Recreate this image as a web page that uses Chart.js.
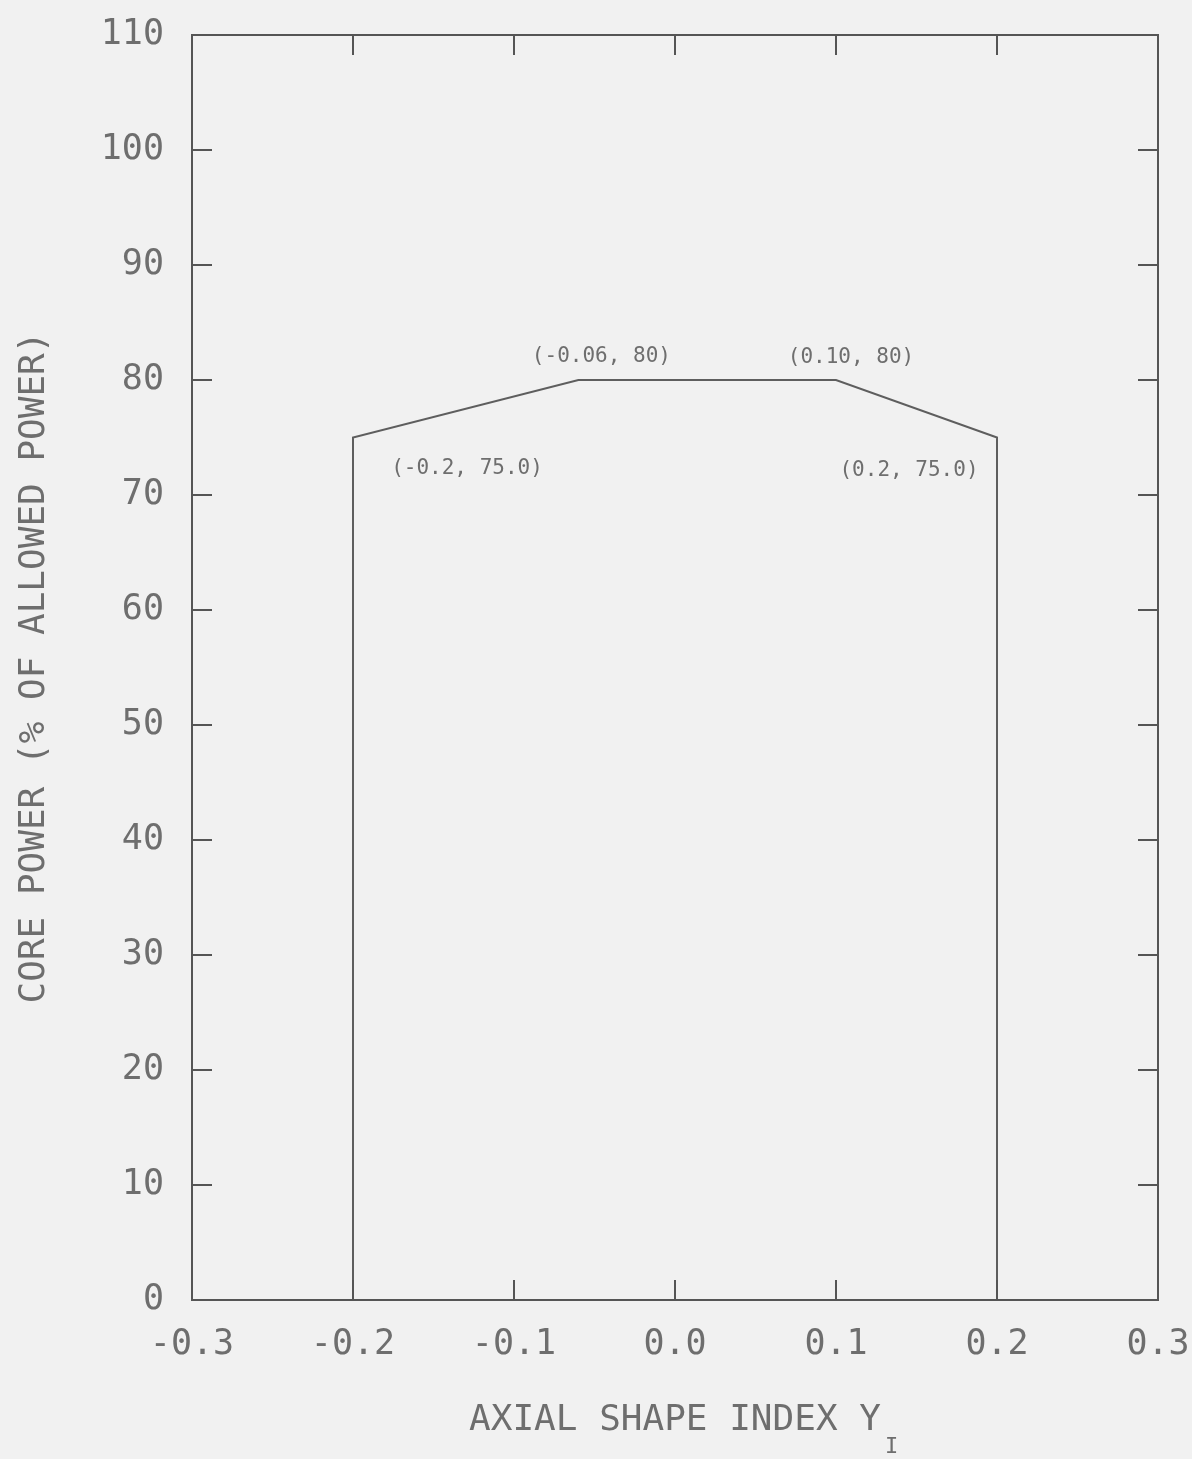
<!DOCTYPE html>
<html>
<head>
<meta charset="utf-8">
<script src="https://cdn.jsdelivr.net/npm/chart.js@4/dist/chart.umd.min.js"></script>
<style>
  html, body { margin: 0; padding: 0; background: #f1f1f1; }
  canvas { display: block; }
</style>
</head>
<body>
<canvas id="c" width="1192" height="1459"></canvas>
<script>
// ---- data ----
const asiValues   = [-0.2, -0.2, -0.06, 0.10, 0.2, 0.2];
const powerValues = [0, 75.0, 80, 80, 75.0, 0];
const xTickValues = [-0.3, -0.2, -0.1, 0.0, 0.1, 0.2, 0.3];
const yTickValues = [0, 10, 20, 30, 40, 50, 60, 70, 80, 90, 100, 110];
const pointLabels = ['(-0.06, 80)', '(0.10, 80)', '(-0.2, 75.0)', '(0.2, 75.0)'];
const labelAnchorX = [-0.06, 0.10, -0.2, 0.2];
const labelAnchorY = [80, 80, 75.0, 75.0];
const xTitle = 'AXIAL SHAPE INDEX Y';
const xTitleSub = 'I';
const yTitle = 'CORE POWER (% OF ALLOWED POWER)';

// ---- styles / placement (not data) ----
const labelOffsets = [[23, -23], [15, -22], [114, 31], [-88, 33]];
const inkText = '#6e6e6e';
const inkLine = '#555555';
const mono = '"DejaVu Sans Mono", monospace';

const points = asiValues.map((x, i) => ({ x: x, y: powerValues[i] }));

const framePlugin = {
  id: 'frame',
  beforeDraw(chart) {
    const ctx = chart.ctx;
    ctx.save();
    ctx.fillStyle = '#f1f1f1';
    ctx.fillRect(0, 0, chart.width, chart.height);
    ctx.restore();
  },
  afterDatasetsDraw(chart) {
    const { ctx, chartArea: a, scales: { x, y } } = chart;
    ctx.save();
    ctx.strokeStyle = inkLine;
    ctx.lineWidth = 2;
    ctx.strokeRect(a.left, a.top, a.right - a.left, a.bottom - a.top);
    const L = 20;
    ctx.beginPath();
    xTickValues.forEach(v => {
      const px = x.getPixelForValue(v);
      if (Math.abs(px - a.left) < 2 || Math.abs(px - a.right) < 2) return;
      ctx.moveTo(px, a.bottom); ctx.lineTo(px, a.bottom - L);
      ctx.moveTo(px, a.top); ctx.lineTo(px, a.top + L);
    });
    yTickValues.forEach(v => {
      const py = y.getPixelForValue(v);
      if (Math.abs(py - a.top) < 2 || Math.abs(py - a.bottom) < 2) return;
      ctx.moveTo(a.left, py); ctx.lineTo(a.left + L, py);
      ctx.moveTo(a.right, py); ctx.lineTo(a.right - L, py);
    });
    ctx.stroke();

    // point annotations
    ctx.fillStyle = inkText;
    ctx.font = '21px ' + mono;
    ctx.textAlign = 'center';
    ctx.textBaseline = 'middle';
    pointLabels.forEach((t, i) => {
      const px = x.getPixelForValue(labelAnchorX[i]) + labelOffsets[i][0];
      const py = y.getPixelForValue(labelAnchorY[i]) + labelOffsets[i][1];
      ctx.fillText(t, px, py);
    });

    // subscript for x title
    ctx.font = '36px ' + mono;
    const w = ctx.measureText(xTitle).width;
    const cx = (a.left + a.right) / 2;
    ctx.font = '22px ' + mono;
    ctx.textAlign = 'left';
    ctx.fillText(xTitleSub, cx + w / 2 + 4, 1447);
    ctx.restore();
  }
};

new Chart(document.getElementById('c'), {
  type: 'scatter',
  data: {
    datasets: [{
      data: points,
      showLine: true,
      borderColor: '#5e5e5e',
      borderWidth: 2,
      pointRadius: 0,
      fill: false,
      tension: 0
    }]
  },
  options: {
    responsive: false,
    animation: false,
    layout: { padding: { top: 35, right: 34, left: 0, bottom: 0 } },
    plugins: { legend: { display: false }, tooltip: { enabled: false } },
    scales: {
      x: {
        type: 'linear',
        min: -0.3, max: 0.3,
        afterBuildTicks: s => { s.ticks = xTickValues.map(v => ({ value: v })); },
        afterFit: s => { s.height = 159; s.paddingLeft = 0; s.paddingRight = 0; },
        grid: { display: false },
        border: { display: false },
        ticks: {
          color: inkText,
          font: { family: mono, size: 35 },
          padding: 16,
          maxRotation: 0,
          autoSkip: false,
          callback: v => v.toFixed(1)
        },
        title: {
          display: true,
          text: xTitle,
          color: inkText,
          font: { family: mono, size: 36 },
          padding: { top: 0, bottom: 17 }
        }
      },
      y: {
        type: 'linear',
        min: 0, max: 110,
        afterBuildTicks: s => { s.ticks = yTickValues.map(v => ({ value: v })); },
        afterFit: s => { s.width = 192; s.paddingTop = 0; s.paddingBottom = 0; },
        grid: { display: false },
        border: { display: false },
        ticks: {
          color: inkText,
          font: { family: mono, size: 35 },
          padding: 20,
          autoSkip: false,
          callback: v => String(v)
        },
        title: {
          display: true,
          text: yTitle,
          color: inkText,
          font: { family: mono, size: 36 },
          padding: { top: 13, bottom: 0 }
        }
      }
    }
  },
  plugins: [framePlugin]
});
</script>
</body>
</html>
